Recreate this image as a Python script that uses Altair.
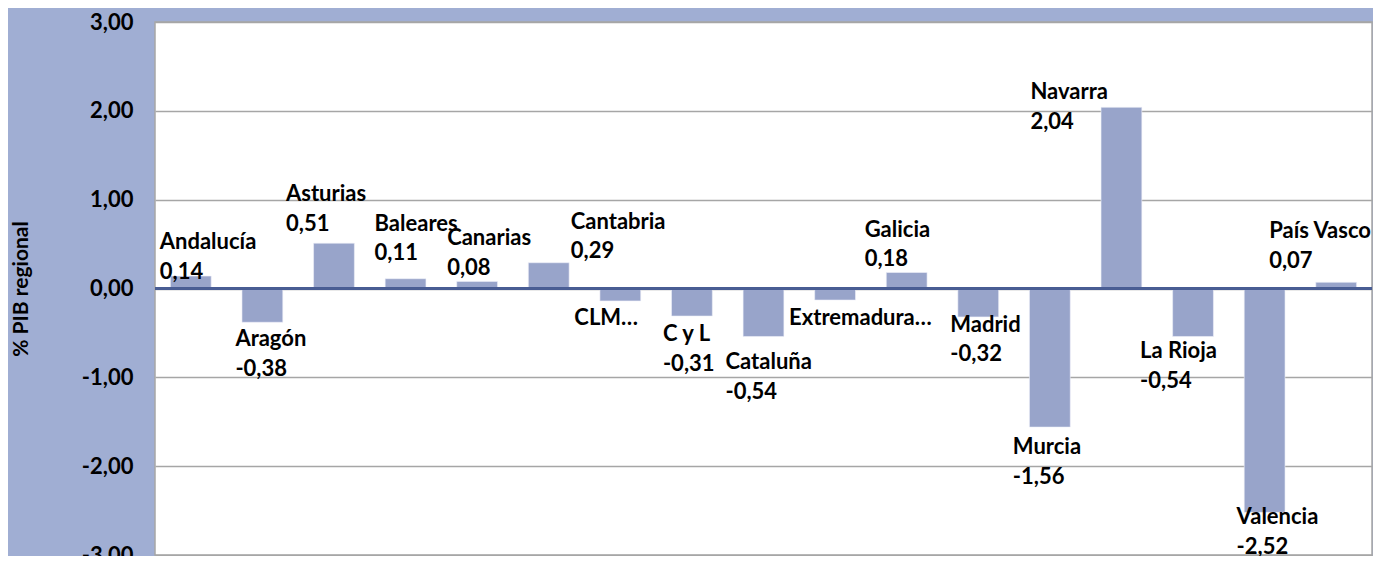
import altair as alt
import pandas as pd

# ---- data ----
regions = ["Andalucía", "Aragón", "Asturias", "Baleares", "Canarias", "Cantabria",
           "CLM", "C y L", "Cataluña", "Extremadura", "Galicia", "Madrid",
           "Murcia", "Navarra", "La Rioja", "Valencia", "País Vasco"]
values = [0.14, -0.38, 0.51, 0.11, 0.08, 0.29, -0.14, -0.31, -0.54, -0.13,
          0.18, -0.32, -1.56, 2.04, -0.54, -2.52, 0.07]
# label names as shown (two were truncated in the original)
label_names = ["Andalucía", "Aragón", "Asturias", "Baleares", "Canarias", "Cantabria",
               "CLM…", "C y L", "Cataluña", "Extremadura…", "Galicia", "Madrid",
               "Murcia", "Navarra", "La Rioja", "Valencia", "País Vasco"]
show_value = [True, True, True, True, True, True, False, True, True, False,
              True, True, True, True, True, True, True]
y_ticks = [-3, -2, -1, 0, 1, 2, 3]

# ---- label nudges (pixels, relative to band centre / bar end) ----
label_dx = [-31, -27, -48, -31, -30, 22, -46, -29, -38, -46, -42, -28, -37, -91, -53, -28, -67]
label_dy = [-34, 17, -49, -55, -43, -41, 17, 18, 26, 18, -43, 8, 20, -15, 15, 5, -51]


def fmt(v):
    return f"{v:.2f}".replace(".", ",")


labels = [n + ("\n" + fmt(v) if s else "") for n, v, s in zip(label_names, values, show_value)]

df = pd.DataFrame({"region": regions, "value": values, "label": labels})

FONT = "Lato"
BG = "#A0AED3"
BAR = "#98A4CA"

x_enc = alt.X("region:N", sort=regions, axis=None,
              scale=alt.Scale(paddingInner=0.43, paddingOuter=0.215))
y_scale = alt.Scale(domain=[-3, 3], nice=False, zero=False)

base = alt.Chart(df)

bars = base.mark_bar(color=BAR, stroke="#EEF0F8", strokeWidth=0.6).encode(
    x=x_enc,
    y=alt.Y("value:Q", scale=y_scale,
            axis=alt.Axis(values=y_ticks, title="% PIB regional",
                          labelExpr="(datum.value < 0 ? '-' : '') + replace(format(abs(datum.value), '.2f'), '.', ',')",
                          labelFont=FONT, labelFontWeight="bold", labelFontSize=22,
                          labelColor="black", labelPadding=22, ticks=False, domain=False,
                          grid=True, gridColor="#A6A6A6", gridWidth=1.5,
                          titleFont=FONT, titleFontWeight="bold", titleFontSize=21,
                          titleColor="black", titleX=-134, titleY=266.5,
                          titleBaseline="middle", titleAngle=270)),
    y2=alt.datum(0),
)

zero = base.mark_rule(color="#4A5E93", strokeWidth=1.5).encode(y=alt.datum(0))

layers = [bars, zero]
for r, dx, dy in zip(regions, label_dx, label_dy):
    t = base.transform_filter(alt.datum.region == r).mark_text(
        align="left", baseline="middle", lineBreak="\n", lineHeight=29.5,
        font=FONT, fontWeight="bold", fontSize=22, color="black",
        dx=dx, dy=dy,
    ).encode(x=x_enc, y=alt.Y("value:Q", scale=y_scale), text="label:N")
    layers.append(t)

chart = alt.layer(*layers).properties(
    width=1217, height=533, background=BG,
    autosize=alt.AutoSizeParams(type="none"),
    padding={"left": 147, "top": 14, "right": 1, "bottom": 1},
).configure_view(fill="white", stroke="#A6A6A6", strokeWidth=1.5)

chart.save("out.html", embed_options={"renderer": "svg", "actions": False})
